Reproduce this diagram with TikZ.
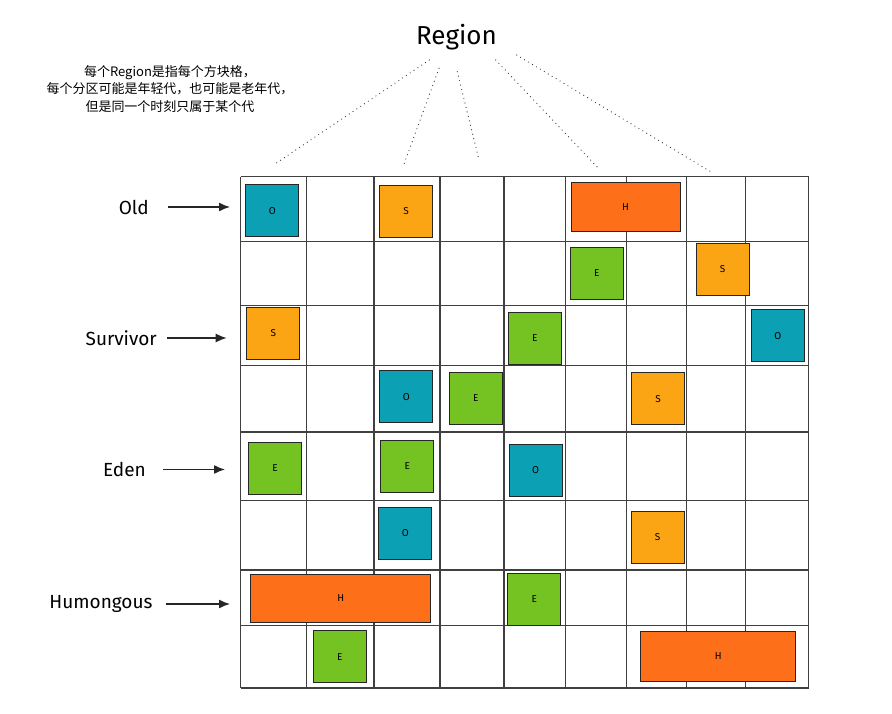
\documentclass[tikz,border=0pt]{standalone}
\usepackage{fontspec}
\setsansfont{Fira Sans}
\newfontfamily\cjk{Noto Sans CJK SC}
\usetikzlibrary{arrows.meta}

\definecolor{oldc}{HTML}{0CA0B5}
\definecolor{survc}{HTML}{FCA514}
\definecolor{humc}{HTML}{FD6F18}
\definecolor{edenc}{HTML}{74C322}

\tikzset{
  gridline/.style={line width=1.3pt, black!75},
  blk/.style={draw=black!85, line width=1pt, minimum width=53pt,
    minimum height=52pt, inner sep=0pt, font=\sffamily\fontsize{10}{10}\selectfont},
  gen/.style={anchor=east, inner sep=2pt, font=\sffamily\fontsize{19}{19}\selectfont},
  arr/.style={-{Latex[length=11pt,width=9pt]}, line width=1.4pt, black!85},
  guide/.style={line width=1.2pt, dash pattern=on 0pt off 4.6pt, line cap=round, black!80}
}

\begin{document}
\begin{tikzpicture}[x=1pt,y=-1pt]
  \useasboundingbox (0,0) rectangle (892,714);

  % Draw grid of regions
  \foreach \x in {240.7,306.7,374,440,504,565.7,626.7,686.7,745.7,808.7}
    \draw [gridline] (\x,176.7) -- (\x,688);
  \foreach \y in {176.7,241.5,305.7,365.5,432,500.7,570,625.7,688}
    \draw [gridline] (240.7,\y) -- (808.7,\y);

  % Draw occupied regions
  \node [blk,fill=oldc] (o1) at (272.3,210.9) {O};
  \node [blk,fill=survc] (s1) at (406,211.3) {S};
  \node [blk,fill=humc,minimum width=109pt,minimum height=49pt] (h1) at (625.5,207.5) {H};
  \node [blk,fill=edenc] (e1) at (596.8,273.3) {E};
  \node [blk,fill=survc] (s2) at (722.7,269.3) {S};
  \node [blk,fill=survc] (s3) at (273.3,333.5) {S};
  \node [blk,fill=edenc] (e2) at (534.8,338.5) {E};
  \node [blk,fill=oldc] (o2) at (777.8,335.8) {O};
  \node [blk,fill=oldc] (o3) at (406.3,396.7) {O};
  \node [blk,fill=edenc] (e3) at (475.8,398) {E};
  \node [blk,fill=survc] (s4) at (658.2,398.8) {S};
  \node [blk,fill=edenc] (e4) at (275,468.2) {E};
  \node [blk,fill=edenc] (e5) at (407.2,466.2) {E};
  \node [blk,fill=oldc] (o4) at (535.5,470) {O};
  \node [blk,fill=oldc] (o5) at (405.3,533) {O};
  \node [blk,fill=survc] (s5) at (657.5,537.2) {S};
  \node [blk,fill=humc,minimum width=180pt,minimum height=48pt] (h2) at (340.7,598.2) {H};
  \node [blk,fill=edenc] (e6) at (534.2,599.5) {E};
  \node [blk,fill=edenc] (e7) at (339.7,656.7) {E};
  \node [blk,fill=humc,minimum width=155pt,minimum height=50pt] (h3) at (718.3,656) {H};

  % Title and note
  \node [font=\sffamily\fontsize{26}{26}\selectfont] (region) at (456.5,37) {Region};
  \node [font=\cjk\fontsize{13}{17.8}\selectfont,align=center] (note) at (170,89)
    {每个Region是指每个方块格，\\每个分区可能是年轻代，也可能是老年代，\\但是同一个时刻只属于某个代};

  % Dotted guides down to the grid
  \coordinate (r1) at (429.3,60);  \coordinate (g1) at (275,164);
  \coordinate (r2) at (439,68.3);  \coordinate (g2) at (403.3,166);
  \coordinate (r3) at (457.3,71.7); \coordinate (g3) at (479,160);
  \coordinate (r4) at (495.7,60);  \coordinate (g4) at (600,170);
  \coordinate (r5) at (516.7,55);  \coordinate (g5) at (710.7,171.7);
  \foreach \i in {1,...,5}
    \draw [guide] (r\i) -- (g\i);

  % Generation labels and arrows
  \node [gen] (old) at (151,207) {Old};
  \node [gen] (surv) at (159,338) {Survivor};
  \node [gen] (eden) at (148,469.5) {Eden};
  \node [gen] (hum) at (154.7,604) {Humongous};
  \coordinate (oldtip) at (230,207);
  \coordinate (survtip) at (226.7,338);
  \coordinate (edentip) at (225,469);
  \coordinate (humtip) at (230,604);
  \draw [arr,shorten <=17pt] (old.east) -- (old.east -| oldtip);
  \draw [arr,shorten <=8pt] (surv.east) -- (surv.east -| survtip);
  \draw [arr,shorten <=15pt] (eden.east) -- (eden.east -| edentip);
  \draw [arr,shorten <=11pt] (hum.east) -- (hum.east -| humtip);

\end{tikzpicture}
\end{document}
